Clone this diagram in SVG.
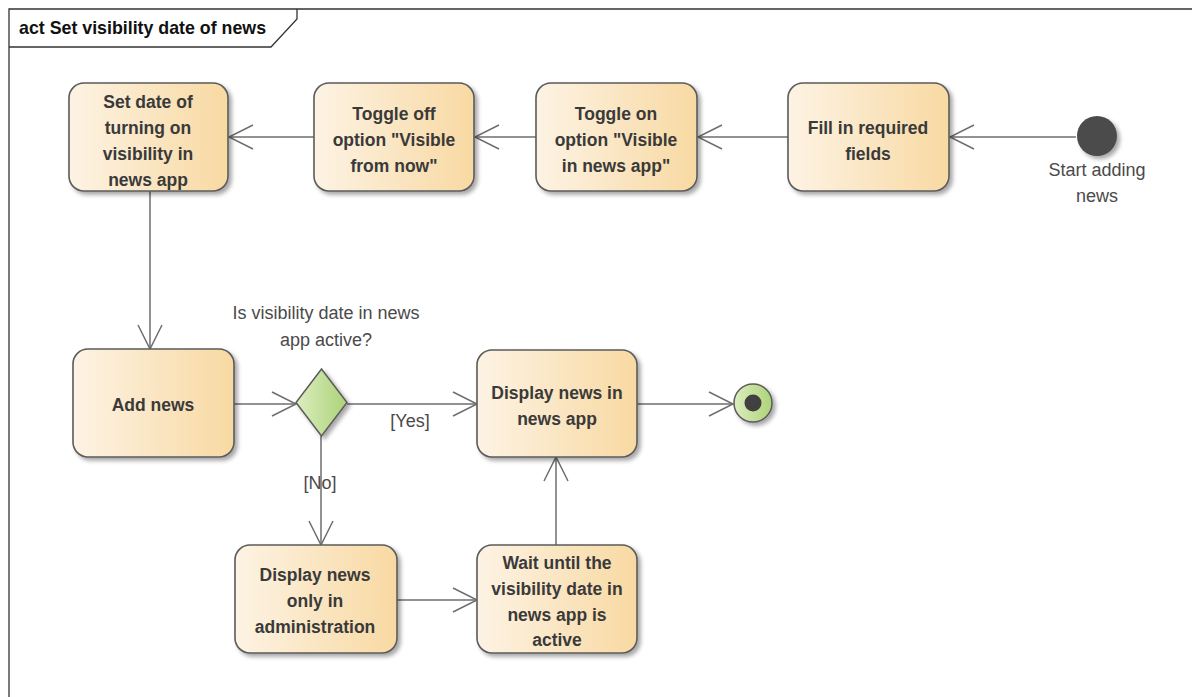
<svg xmlns="http://www.w3.org/2000/svg" width="1192" height="697" viewBox="0 0 1192 697">
<defs>
<style>
.node rect{fill:url(#act);stroke:#5b5b5b;stroke-width:1.6;filter:url(#sh)}
.nt{font-family:"Liberation Sans",Arial,sans-serif;font-weight:bold;font-size:17.5px;fill:#3a3a3a;text-anchor:middle}
.lbl{font-family:"Liberation Sans",Arial,sans-serif;font-size:18px;fill:#4a4a4a;text-anchor:middle}
.edge{stroke:#6e6e6e;stroke-width:1.5;fill:none;marker-end:url(#arr)}
</style>
<linearGradient id="act" x1="0" y1="0" x2="1" y2="0">
<stop offset="0" stop-color="#fdf3e4"/>
<stop offset="1" stop-color="#f8d9a2"/>
</linearGradient>
<linearGradient id="grn" x1="0" y1="0" x2="1" y2="0">
<stop offset="0" stop-color="#dcedbf"/>
<stop offset="1" stop-color="#acd378"/>
</linearGradient>
<filter id="sh" x="-10%" y="-10%" width="130%" height="130%">
<feGaussianBlur in="SourceAlpha" stdDeviation="2"/>
<feOffset dx="3" dy="3" result="b"/>
<feComponentTransfer><feFuncA type="linear" slope="0.35"/></feComponentTransfer>
<feMerge><feMergeNode/><feMergeNode in="SourceGraphic"/></feMerge>
</filter>
<marker id="arr" markerUnits="userSpaceOnUse" markerWidth="30" markerHeight="30" refX="25" refY="13" orient="auto" overflow="visible">
<path d="M1,1 L25,13 L1,25" fill="none" stroke="#6e6e6e" stroke-width="1.5"/>
</marker>
</defs>
<rect width="1192" height="697" fill="#ffffff"/>
<g id="frame" fill="none" stroke="#333" stroke-width="1.3">
<path d="M9,697 L9,9 L1192,9"/>
<path d="M9,47 L271,47 L297,19 L297,9"/>
</g>
<text x="19" y="34" font-family="'Liberation Sans',Arial,sans-serif" font-weight="bold" font-size="17.8" fill="#111">act Set visibility date of news</text>

<g id="connectors">
<line class="edge" x1="1076" y1="137" x2="950" y2="137"/>
<line class="edge" x1="788" y1="137" x2="698" y2="137"/>
<line class="edge" x1="536" y1="137" x2="475" y2="137"/>
<line class="edge" x1="314" y1="137" x2="229" y2="137"/>
<line class="edge" x1="150" y1="191" x2="150" y2="349"/>
<line class="edge" x1="234" y1="404" x2="296" y2="404"/>
<line class="edge" x1="347" y1="404" x2="477" y2="404"/>
<line class="edge" x1="637" y1="404" x2="733" y2="404"/>
<line class="edge" x1="321" y1="436" x2="321" y2="545"/>
<line class="edge" x1="397" y1="600" x2="477" y2="600"/>
<line class="edge" x1="556" y1="545" x2="556" y2="457"/>
<text class="lbl" x="410" y="427">[Yes]</text>
<text class="lbl" x="320" y="489">[No]</text>
</g>

<g id="start">
<circle cx="1097" cy="136" r="20" fill="#4b4b4b" filter="url(#sh)"/>
<text class="lbl" x="1097" y="176">Start adding</text>
<text class="lbl" x="1097" y="202">news</text>
</g>

<g id="fill" class="node">
<rect x="788" y="83" width="161" height="108" rx="15"/>
<text class="nt" x="868" y="134">Fill in required</text>
<text class="nt" x="868" y="160">fields</text>
</g>

<g id="toggleOn" class="node">
<rect x="536" y="83" width="161" height="108" rx="15"/>
<text class="nt" x="616" y="120">Toggle on</text>
<text class="nt" x="616" y="146">option "Visible</text>
<text class="nt" x="616" y="172">in news app"</text>
</g>

<g id="toggleOff" class="node">
<rect x="314" y="83" width="160" height="108" rx="15"/>
<text class="nt" x="394" y="120">Toggle off</text>
<text class="nt" x="394" y="146">option "Visible</text>
<text class="nt" x="394" y="172">from now"</text>
</g>

<g id="setDate" class="node">
<rect x="69" y="83" width="159" height="108" rx="15"/>
<text class="nt" x="148" y="108">Set date of</text>
<text class="nt" x="148" y="134">turning on</text>
<text class="nt" x="148" y="160">visibility in</text>
<text class="nt" x="148" y="186">news app</text>
</g>

<g id="addNews" class="node">
<rect x="73" y="349" width="161" height="108" rx="15"/>
<text class="nt" x="153" y="411">Add news</text>
</g>

<g id="decision">
<polygon points="321.5,369 347,402.5 321.5,436 296,402.5" fill="url(#grn)" stroke="#5b5b5b" stroke-width="1.5" filter="url(#sh)"/>
<text class="lbl" x="326" y="319">Is visibility date in news</text>
<text class="lbl" x="326" y="346">app active?</text>
</g>

<g id="displayApp" class="node">
<rect x="477" y="350" width="160" height="107" rx="15"/>
<text class="nt" x="557" y="399">Display news in</text>
<text class="nt" x="557" y="425">news app</text>
</g>

<g id="final">
<circle cx="753" cy="403" r="19" fill="url(#grn)" stroke="#5b5b5b" stroke-width="1.5" filter="url(#sh)"/>
<circle cx="753" cy="403" r="8.5" fill="#404040"/>
</g>

<g id="displayAdmin" class="node">
<rect x="235" y="545" width="162" height="108" rx="15"/>
<text class="nt" x="315" y="581">Display news</text>
<text class="nt" x="315" y="607">only in</text>
<text class="nt" x="315" y="633">administration</text>
</g>

<g id="wait" class="node">
<rect x="477" y="545" width="160" height="108" rx="15"/>
<text class="nt" x="557" y="569">Wait until the</text>
<text class="nt" x="557" y="595">visibility date in</text>
<text class="nt" x="557" y="621">news app is</text>
<text class="nt" x="557" y="646">active</text>
</g>
</svg>
